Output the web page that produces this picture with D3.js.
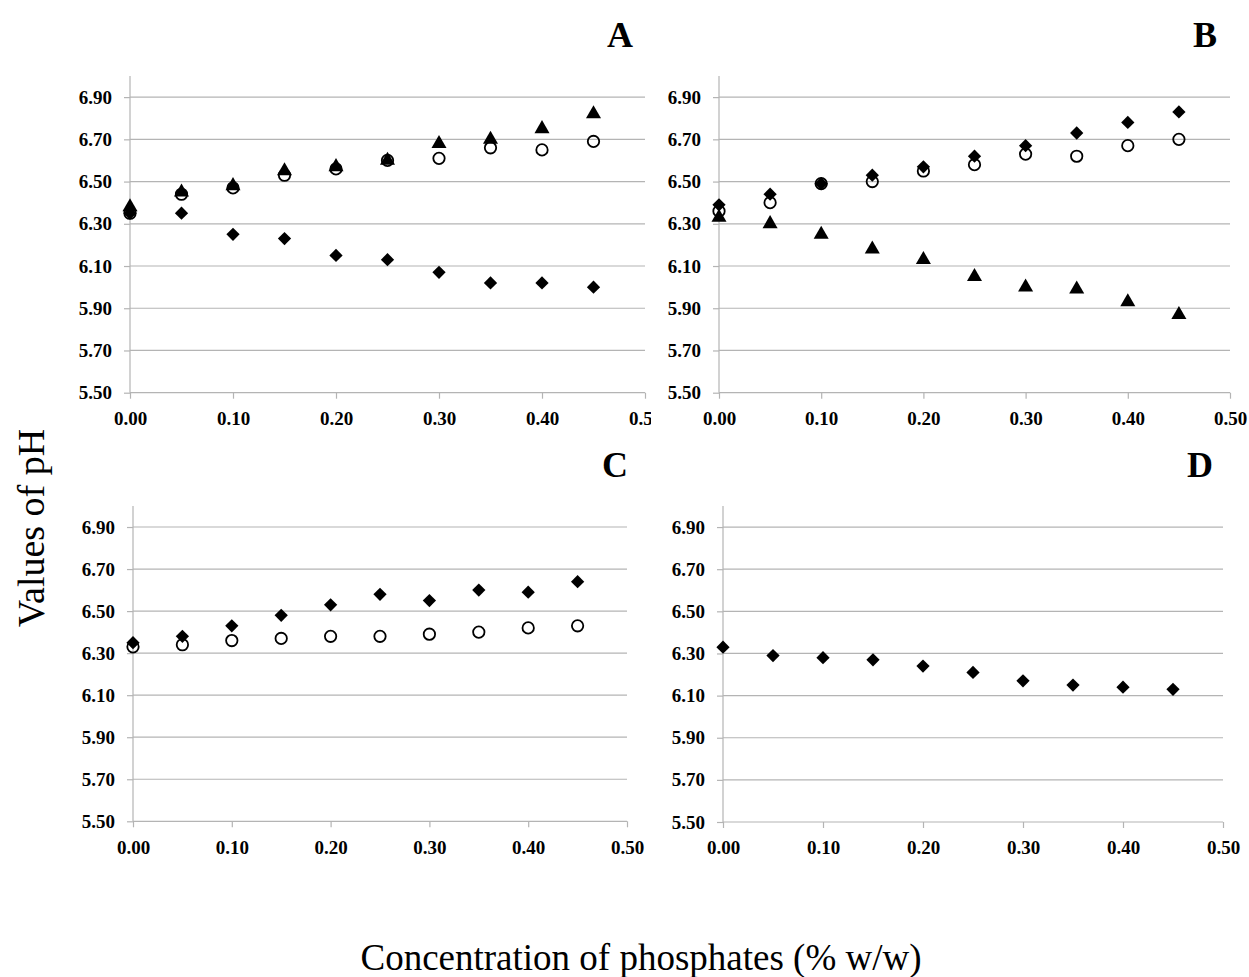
<!DOCTYPE html>
<html>
<head>
<meta charset="utf-8">
<script src="https://cdn.jsdelivr.net/npm/d3@7/dist/d3.min.js"></script>
<style>
  html, body { margin: 0; padding: 0; background: #fff; }
  svg { display: block; }
</style>
</head>
<body>
<svg id="chart" width="1249" height="977"></svg>
<script>
// ---- Data ----
const concentrations = [0.00, 0.05, 0.10, 0.15, 0.20, 0.25, 0.30, 0.35, 0.40, 0.45];

const panelNames = ["A", "B", "C", "D"];

// Panel A
const aDiamond  = [6.35, 6.35, 6.25, 6.23, 6.15, 6.13, 6.07, 6.02, 6.02, 6.00];
const aCircle   = [6.35, 6.44, 6.47, 6.53, 6.56, 6.60, 6.61, 6.66, 6.65, 6.69];
const aTriangle = [6.38, 6.45, 6.48, 6.55, 6.57, 6.60, 6.68, 6.70, 6.75, 6.82];

// Panel B
const bDiamond  = [6.39, 6.44, 6.49, 6.53, 6.57, 6.62, 6.67, 6.73, 6.78, 6.83];
const bCircle   = [6.36, 6.40, 6.49, 6.50, 6.55, 6.58, 6.63, 6.62, 6.67, 6.70];
const bTriangle = [6.33, 6.30, 6.25, 6.18, 6.13, 6.05, 6.00, 5.99, 5.93, 5.87];

// Panel C
const cDiamond  = [6.35, 6.38, 6.43, 6.48, 6.53, 6.58, 6.55, 6.60, 6.59, 6.64];
const cCircle   = [6.33, 6.34, 6.36, 6.37, 6.38, 6.38, 6.39, 6.40, 6.42, 6.43];

// Panel D
const dDiamond  = [6.33, 6.29, 6.28, 6.27, 6.24, 6.21, 6.17, 6.15, 6.14, 6.13];

// Axis ticks
const yTicks = [5.50, 5.70, 5.90, 6.10, 6.30, 6.50, 6.70, 6.90];
const xTicks = [0.00, 0.10, 0.20, 0.30, 0.40, 0.50];
const xTickLabels = ["0.00", "0.10", "0.20", "0.30", "0.40", "0.50"];
const yDomain = [5.50, 7.00];
const xDomain = [0.00, 0.50];

const yAxisTitle = "Values of pH";
const xAxisTitle = "Concentration of phosphates (% w/w)";

// ---- Layout (styles) ----
const layout = {
  A: { left: 130, right: 645, top: 76,  bottom: 392.7, title: [620, 47],  clipRight: 651,
       series: [ {v: aDiamond, s: "diamond"}, {v: aCircle, s: "circle"}, {v: aTriangle, s: "triangle"} ] },
  B: { left: 719, right: 1230, top: 76, bottom: 392.7, title: [1205, 47], clipRight: 1249,
       series: [ {v: bDiamond, s: "diamond"}, {v: bCircle, s: "circle"}, {v: bTriangle, s: "triangle"} ] },
  C: { left: 133, right: 627, top: 506, bottom: 821.3, title: [615, 477], clipRight: 660,
       series: [ {v: cDiamond, s: "diamond"}, {v: cCircle, s: "circle"} ] },
  D: { left: 723, right: 1223, top: 506, bottom: 822, title: [1200, 477], clipRight: 1249,
       series: [ {v: dDiamond, s: "diamond"} ] }
};

const svg = d3.select("#chart");
const gridColor = "#b4b4b4";
const tickFont = "'Liberation Serif', 'Times New Roman', serif";

const diamondPath = d3.symbol().type(d3.symbolSquare).size(88)();
const trianglePath = d3.symbol().type(d3.symbolTriangle).size(98)();

panelNames.forEach((name, i) => {
  const L = layout[name];
  const x = d3.scaleLinear().domain(xDomain).range([L.left, L.right]);
  const y = d3.scaleLinear().domain(yDomain).range([L.bottom, L.top]);

  const clipId = "clip" + name;
  svg.append("clipPath").attr("id", clipId)
    .append("rect").attr("x", 0).attr("y", 0).attr("width", L.clipRight).attr("height", 977);

  const g = svg.append("g").attr("clip-path", `url(#${clipId})`);

  const yAxis = d3.axisLeft(y).tickValues(yTicks).tickSize(6).tickPadding(12)
    .tickFormat(d3.format(".2f"));
  const gy = g.append("g").attr("transform", `translate(${L.left},0)`).call(yAxis);
  gy.select(".domain").remove();
  gy.selectAll(".tick line").attr("stroke", gridColor).attr("stroke-width", 1.2);
  gy.selectAll(".tick text")
    .attr("font-family", tickFont).attr("font-weight", "bold").attr("font-size", 19).attr("fill", "#000");

  // gridlines
  g.append("g").selectAll("line").data(yTicks).join("line")
    .attr("x1", L.left).attr("x2", L.right)
    .attr("y1", d => y(d)).attr("y2", d => y(d))
    .attr("stroke", gridColor).attr("stroke-width", 1.2);

  // y axis line
  g.append("line")
    .attr("x1", L.left).attr("x2", L.left)
    .attr("y1", y(yDomain[1])).attr("y2", y(yDomain[0]))
    .attr("stroke", gridColor).attr("stroke-width", 1.2);

  // x axis
  const xAxis = d3.axisBottom(x).tickValues(xTicks).tickSize(6).tickPadding(13)
    .tickFormat((d, j) => xTickLabels[j]);
  const gx = g.append("g").attr("transform", `translate(0,${y(yDomain[0])})`).call(xAxis);
  gx.select(".domain").remove();
  gx.selectAll(".tick line").attr("stroke", gridColor).attr("stroke-width", 1.2);
  gx.selectAll(".tick text")
    .attr("font-family", tickFont).attr("font-weight", "bold").attr("font-size", 19).attr("fill", "#000");

  // markers
  L.series.forEach(ser => {
    const pts = concentrations.map((c, k) => ({c, v: ser.v[k]}));
    const mg = g.append("g");
    if (ser.s === "diamond") {
      mg.selectAll("path").data(pts).join("path")
        .attr("d", diamondPath)
        .attr("transform", d => `translate(${x(d.c)},${y(d.v)}) rotate(45)`)
        .attr("fill", "#000");
    } else if (ser.s === "triangle") {
      mg.selectAll("path").data(pts).join("path")
        .attr("d", trianglePath)
        .attr("transform", d => `translate(${x(d.c)},${y(d.v)})`)
        .attr("fill", "#000");
    } else {
      mg.selectAll("circle").data(pts).join("circle")
        .attr("cx", d => x(d.c)).attr("cy", d => y(d.v)).attr("r", 5.7)
        .attr("fill", "none").attr("stroke", "#000").attr("stroke-width", 1.8);
    }
  });

  // panel title
  svg.append("text")
    .attr("x", L.title[0]).attr("y", L.title[1])
    .attr("text-anchor", "middle")
    .attr("font-family", tickFont).attr("font-weight", "bold").attr("font-size", 36)
    .text(name);
});

// Axis titles
svg.append("text")
  .attr("transform", "translate(44,528) rotate(-90)")
  .attr("text-anchor", "middle")
  .attr("font-family", tickFont).attr("font-size", 38)
  .text(yAxisTitle);

svg.append("text")
  .attr("x", 641).attr("y", 970)
  .attr("text-anchor", "middle")
  .attr("font-family", tickFont).attr("font-size", 37)
  .text(xAxisTitle);
</script>
</body>
</html>
